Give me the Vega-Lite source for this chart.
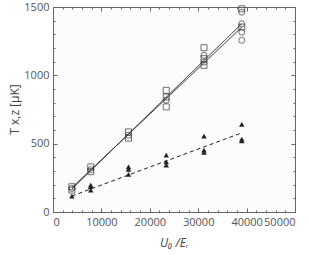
{
  "$schema": "https://vega.github.io/schema/vega-lite/v6.json",
  "width": 242,
  "height": 205,
  "autosize": {"type": "none"},
  "padding": {"left": 53, "top": 7, "right": 14, "bottom": 43},
  "background": "white",
  "view": {"stroke": null, "fill": "#fcfcfc"},
  "config": {
    "axis": {"labelFont": "Open Sans", "titleFont": "Open Sans", "labelColor": "#555", "titleColor": "#444", "domainColor": "#666", "tickColor": "#666", "grid": false, "labelFontSize": 11, "titleFontWeight": "normal", "titleFontSize": 12, "format": "d"}
  },
  "datasets": {
    "pts": [
      {"x": 3900, "y": 185, "s": "sq"}, {"x": 3900, "y": 160, "s": "sq"}, {"x": 3900, "y": 172, "s": "ci"},
      {"x": 7800, "y": 330, "s": "sq"}, {"x": 7800, "y": 295, "s": "sq"}, {"x": 7800, "y": 310, "s": "ci"},
      {"x": 15600, "y": 586, "s": "sq"}, {"x": 15600, "y": 562, "s": "ci"}, {"x": 15600, "y": 540, "s": "sq"},
      {"x": 23400, "y": 890, "s": "sq"}, {"x": 23400, "y": 842, "s": "sq"}, {"x": 23400, "y": 818, "s": "ci"}, {"x": 23400, "y": 769, "s": "sq"},
      {"x": 31200, "y": 1202, "s": "sq"}, {"x": 31200, "y": 1146, "s": "ci"}, {"x": 31200, "y": 1122, "s": "sq"}, {"x": 31200, "y": 1097, "s": "ci"}, {"x": 31200, "y": 1073, "s": "sq"},
      {"x": 39000, "y": 1487, "s": "sq"}, {"x": 39000, "y": 1462, "s": "ci"}, {"x": 39000, "y": 1377, "s": "ci"}, {"x": 39000, "y": 1353, "s": "sq"}, {"x": 39000, "y": 1316, "s": "ci"}, {"x": 39000, "y": 1256, "s": "ci"},
      {"x": 3900, "y": 117, "s": "tri"},
      {"x": 7800, "y": 197, "s": "tri"}, {"x": 7800, "y": 185, "s": "tri"}, {"x": 7800, "y": 160, "s": "tri"},
      {"x": 15600, "y": 330, "s": "tri"}, {"x": 15600, "y": 312, "s": "tri"}, {"x": 15600, "y": 275, "s": "tri"},
      {"x": 23400, "y": 416, "s": "tri"}, {"x": 23400, "y": 367, "s": "tri"}, {"x": 23400, "y": 343, "s": "tri"},
      {"x": 31200, "y": 555, "s": "tri"}, {"x": 31200, "y": 453, "s": "tri"}, {"x": 31200, "y": 436, "s": "tri"},
      {"x": 39000, "y": 642, "s": "tri"}, {"x": 39000, "y": 533, "s": "tri"}, {"x": 39000, "y": 520, "s": "tri"}
    ],
    "lines": [
      {"x": 3900, "y": 168, "l": "a"}, {"x": 39000, "y": 1378, "l": "a"},
      {"x": 3900, "y": 178, "l": "b"}, {"x": 39000, "y": 1352, "l": "b"},
      {"x": 3900, "y": 117, "l": "c"}, {"x": 39000, "y": 579, "l": "c"}
    ]
  },
  "resolve": {"axis": {"x": "independent", "y": "independent"}},
  "layer": [
    {
      "data": {"name": "lines"},
      "mark": {"type": "line", "color": "#222", "strokeWidth": 1},
      "encoding": {
        "x": {"field": "x", "type": "quantitative", "scale": {"domain": [0, 50000]}, "axis": {"orient": "bottom", "values": [0, 10000, 20000, 30000, 40000, 50000], "tickSize": -4, "labelPadding": 8, "title": "U₀ /Eᵣ", "titleFontStyle": "italic", "titlePadding": 10}},
        "y": {"field": "y", "type": "quantitative", "scale": {"domain": [0, 1500]}, "axis": {"orient": "left", "values": [0, 500, 1000, 1500], "tickSize": -4, "labelPadding": 8, "title": "T x,z [μK]", "titleX": -32, "titleY": 102}},
        "detail": {"field": "l"},
        "strokeDash": {"field": "l", "type": "nominal", "scale": {"domain": ["a", "b", "c"], "range": [[1, 0], [1, 0], [4, 3]]}, "legend": null}
      }
    },
    {
      "data": {"name": "pts"},
      "transform": [{"filter": "datum.s === 'sq'"}],
      "mark": {"type": "point", "shape": "square", "filled": false, "color": "#333", "size": 36, "strokeWidth": 1},
      "encoding": {
        "x": {"field": "x", "type": "quantitative", "scale": {"domain": [0, 50000]}, "axis": {"orient": "top", "values": [0, 10000, 20000, 30000, 40000, 50000], "tickSize": -4, "labels": false, "title": null}},
        "y": {"field": "y", "type": "quantitative", "scale": {"domain": [0, 1500]}, "axis": {"orient": "right", "values": [0, 500, 1000, 1500], "tickSize": -4, "labels": false, "title": null}}
      }
    },
    {
      "data": {"name": "pts"},
      "transform": [{"filter": "datum.s === 'ci'"}],
      "mark": {"type": "point", "shape": "circle", "filled": false, "color": "#333", "size": 36, "strokeWidth": 1},
      "encoding": {
        "x": {"field": "x", "type": "quantitative", "scale": {"domain": [0, 50000]}, "axis": {"orient": "bottom", "values": [2000,4000,6000,8000,12000,14000,16000,18000,22000,24000,26000,28000,32000,34000,36000,38000,42000,44000,46000,48000], "tickSize": -2, "labels": false, "domain": false, "title": null}},
        "y": {"field": "y", "type": "quantitative", "scale": {"domain": [0, 1500]}, "axis": {"orient": "left", "values": [100,200,300,400,600,700,800,900,1100,1200,1300,1400], "tickSize": -2, "labels": false, "domain": false, "title": null}}
      }
    },
    {
      "data": {"name": "pts"},
      "transform": [{"filter": "datum.s === 'tri'"}],
      "mark": {"type": "point", "shape": "triangle-up", "filled": true, "color": "#222", "size": 30, "opacity": 1},
      "encoding": {
        "x": {"field": "x", "type": "quantitative", "scale": {"domain": [0, 50000]}, "axis": {"orient": "top", "values": [2000,4000,6000,8000,12000,14000,16000,18000,22000,24000,26000,28000,32000,34000,36000,38000,42000,44000,46000,48000], "tickSize": -2, "labels": false, "domain": false, "title": null}},
        "y": {"field": "y", "type": "quantitative", "scale": {"domain": [0, 1500]}, "axis": {"orient": "right", "values": [100,200,300,400,600,700,800,900,1100,1200,1300,1400], "tickSize": -2, "labels": false, "domain": false, "title": null}}
      }
    }
  ]
}
